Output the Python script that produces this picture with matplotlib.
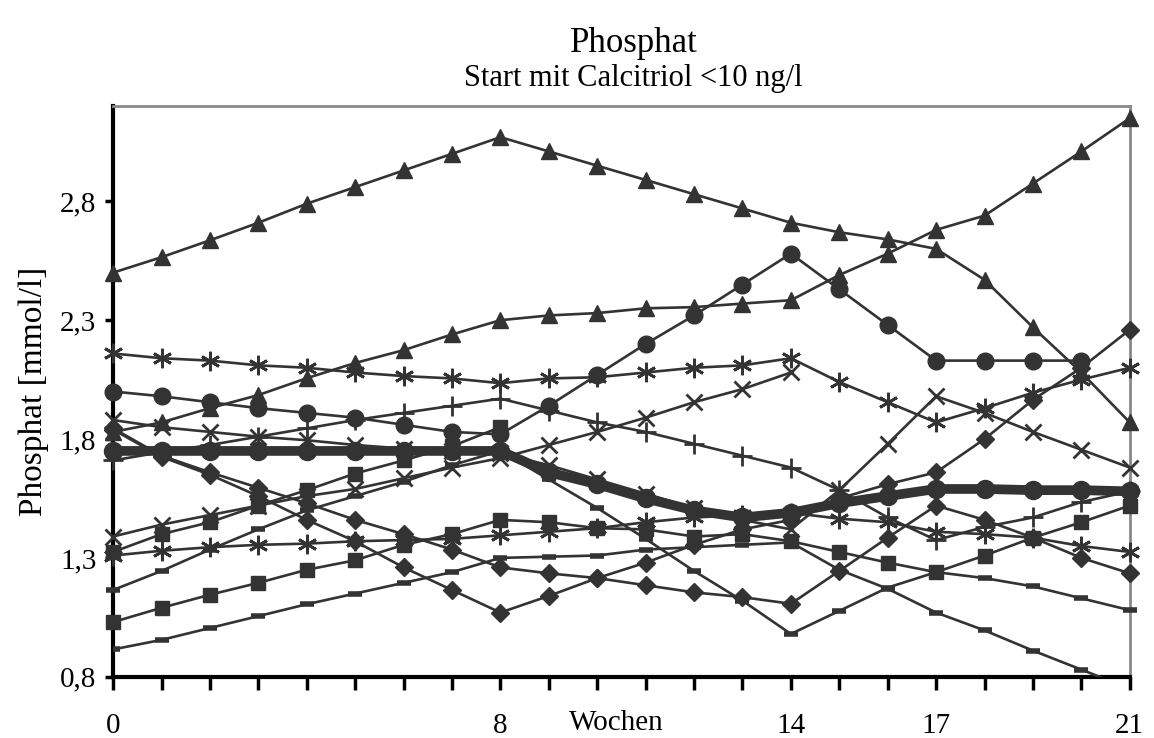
import numpy as np
import matplotlib.pyplot as plt
from matplotlib.transforms import blended_transform_factory

plt.rcParams['font.family'] = ['Liberation Serif', 'DejaVu Serif']

weeks = list(range(22))
xtick_labels = {0: '0', 8: '8', 14: '14', 17: '17', 21: '21'}
yticks = [0.8, 1.3, 1.8, 2.3, 2.8]

# triangles
tri_1 = [2.50, 2.565, 2.636, 2.71, 2.79, 2.86, 2.93, 3.00, 3.07, 3.01, 2.95,
         2.89, 2.83, 2.77, 2.71, 2.67, 2.64, 2.60, 2.47, 2.27, 2.08, 1.87]
tri_2 = [1.83, 1.87, 1.93, 1.985, 2.056, 2.12, 2.174, 2.24, 2.30, 2.32, 2.33,
         2.35, 2.355, 2.37, 2.384, 2.49, 2.58, 2.68, 2.74, 2.875, 3.01, 3.15]
# circles
circ_1 = [2.00, 1.98, 1.955, 1.93, 1.91, 1.89, 1.86, 1.83, 1.82, 1.94, 2.07,
          2.20, 2.32, 2.45, 2.58, 2.43, 2.28, 2.13, 2.13, 2.13, 2.13, None]
# stars
star_1 = [2.16, 2.14, 2.13, 2.11, 2.10, 2.08, 2.065, 2.055, 2.035, 2.055, 2.06,
          2.08, 2.10, 2.11, 2.14, 2.04, 1.955, 1.87, 1.93, 1.995, 2.05, 2.10]
star_2 = [1.31, 1.33, 1.345, 1.355, 1.36, 1.37, 1.375, 1.38, 1.395, 1.41, 1.425,
          1.45, 1.47, 1.48, 1.49, 1.465, 1.45, 1.41, 1.40, 1.385, 1.35, 1.325]
# crosses
x_1 = [1.39, 1.44, 1.48, 1.52, 1.56, 1.59, 1.635, 1.68, 1.72, 1.775, 1.83,
       1.89, 1.955, 2.01, 2.08, None, None, None, None, None, None, None]
x_2 = [1.88, 1.85, 1.83, 1.81, 1.795, 1.775, 1.76, 1.75, 1.74, 1.69, 1.63,
       1.57, 1.51, 1.46, 1.42, 1.585, 1.78, 1.98, 1.91, 1.83, 1.755, 1.68]
# plus
plus_1 = [1.71, 1.745, 1.775, 1.81, 1.845, 1.88, 1.91, 1.94, 1.97, 1.92, 1.87,
          1.83, 1.78, 1.73, 1.68, 1.585, 1.47, 1.375, 1.43, 1.47, 1.535, 1.58]
# diamonds
dia_1 = [1.845, 1.73, 1.66, 1.595, 1.53, 1.46, 1.40, 1.335, 1.26, 1.235, 1.215,
         1.185, 1.155, 1.135, 1.107, 1.245, 1.385, 1.52, 1.46, 1.385, 1.30, 1.235]
dia_2 = [1.84, 1.725, 1.65, 1.56, 1.46, 1.37, 1.26, 1.165, 1.07, 1.14, 1.215,
         1.28, 1.355, 1.42, 1.46, 1.55, 1.61, 1.66, 1.80, 1.965, 2.10, 2.26]
# squares
sq_1 = [1.325, 1.40, 1.45, 1.52, 1.585, 1.655, 1.71, 1.77, 1.85, None, None,
        None, None, None, None, None, None, None, None, None, None, None]
sq_2 = [1.03, 1.09, 1.145, 1.195, 1.25, 1.29, 1.355, 1.40, 1.46, 1.45, 1.425,
        1.42, 1.39, 1.40, 1.37, 1.325, 1.28, 1.24, 1.31, 1.385, 1.45, 1.52]
# dashes
dash_1 = [0.915, 0.955, 1.005, 1.055, 1.105, 1.15, 1.195, 1.24, 1.30, 1.305, 1.31,
          1.335, 1.345, 1.355, 1.365, 1.25, 1.17, 1.07, 0.995, 0.91, 0.83, 0.75]
dash_2 = [1.165, 1.245, 1.335, 1.42, 1.50, 1.56, 1.62, 1.69, 1.75, 1.63, 1.51,
          1.38, 1.245, 1.12, 0.98, 1.077, 1.175, 1.24, 1.215, 1.18, 1.13, 1.08]
# thick line
mean = [1.75, 1.75, 1.75, 1.75, 1.75, 1.75, 1.75, 1.75, 1.75, 1.66, 1.61,
        1.55, 1.50, 1.47, 1.49, 1.53, 1.56, 1.59, 1.59, 1.585, 1.585, 1.58]

col = '#333333'
star = (6, 2, 0)
series = [
    (tri_1, '^', 12, 1), (tri_2, '^', 12, 1),
    (circ_1, 'o', 12, 1),
    (star_1, star, 14, 2), (star_2, star, 14, 2),
    (x_1, 'x', 12, 2), (x_2, 'x', 12, 2),
    (plus_1, '+', 14, 2),
    (dia_1, 'D', 9, 1), (dia_2, 'D', 9, 1),
    (sq_1, 's', 10, 1), (sq_2, 's', 10, 1),
    (dash_1, '_', 10, 4), (dash_2, '_', 10, 4),
]

fig = plt.figure(figsize=(11.54, 7.38), dpi=100)
ax = fig.add_axes([0.098, 0.083, 0.881, 0.773])

for vals, mk, ms, mew in series:
    y = np.array(vals, dtype=float)
    clip = np.nanmin(y) < 0.8
    ax.plot(weeks, y, color=col, lw=1.9, marker=mk, ms=ms, mew=mew,
            mec=col, mfc=col, clip_on=clip, zorder=3)

ax.plot(weeks, np.array(mean, dtype=float), color=col, lw=7, marker='o',
        ms=13, mfc=col, mec=col, clip_on=False, zorder=4)

ax.set_xlim(0, 21)
ax.set_ylim(0.8, 3.2)
ax.set_xticks(weeks)
ax.set_xticklabels([xtick_labels.get(w, '') for w in weeks], fontsize=21)
ax.set_yticks(yticks)
ax.set_yticklabels([f'{v:.1f}'.replace('.', ',') for v in yticks], fontsize=21)
ax.tick_params(axis='x', direction='out', length=9, width=2.5, pad=17)
ax.tick_params(axis='y', direction='out', length=6, width=2.5, pad=6)

for s in ['left', 'bottom']:
    ax.spines[s].set_linewidth(3)
    ax.spines[s].set_color('black')
for s in ['top', 'right']:
    ax.spines[s].set_linewidth(2)
    ax.spines[s].set_color('#888888')

trans = blended_transform_factory(ax.transData, ax.transAxes)
ax.text(10.4, -0.081, 'Wochen', transform=trans, ha='center', va='center', fontsize=21)

ax.set_ylabel('Phosphat [mmol/l]', fontsize=24, labelpad=8)
fig.text(0.549, 0.941, 'Phosphat', ha='center', va='center', fontsize=25)
fig.text(0.549, 0.893, 'Start mit Calcitriol <10 ng/l', ha='center', va='center', fontsize=22)

fig.savefig('out.png', dpi=100)
